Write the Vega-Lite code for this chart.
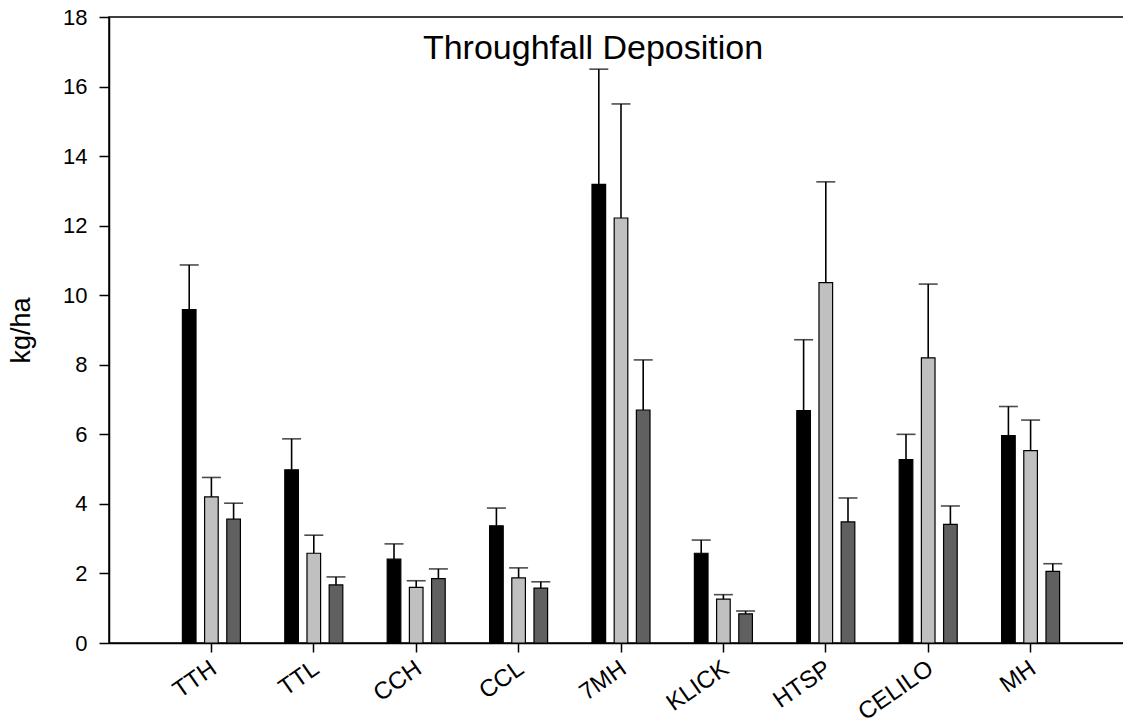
{
  "$schema": "https://vega.github.io/schema/vega-lite/v6.json",
  "width": 1024,
  "height": 626,
  "autosize": {"type": "none"},
  "padding": {"left": 109, "top": 17, "right": 0, "bottom": 77},
  "background": "white",
  "title": {"text": "Throughfall Deposition", "font": "Liberation Sans", "fontSize": 34, "fontWeight": "normal", "color": "black", "anchor": "middle", "dx": -28, "offset": -87, "baseline": "alphabetic"},
  "config": {
    "view": {"stroke": "black", "strokeWidth": 1.5},
    "axis": {"labelFont": "Liberation Sans", "titleFont": "Liberation Sans", "labelColor": "black", "titleColor": "black", "domainColor": "black", "tickColor": "black", "domainWidth": 1.5, "tickWidth": 1.5, "grid": false}
  },
  "data": {"values": [
    {"site": "TTH", "series": "A", "value": 9.59, "upper": 10.87},
    {"site": "TTH", "series": "B", "value": 4.2, "upper": 4.76},
    {"site": "TTH", "series": "C", "value": 3.56, "upper": 4.02},
    {"site": "TTL", "series": "A", "value": 4.98, "upper": 5.87},
    {"site": "TTL", "series": "B", "value": 2.58, "upper": 3.1},
    {"site": "TTL", "series": "C", "value": 1.67, "upper": 1.9},
    {"site": "CCH", "series": "A", "value": 2.41, "upper": 2.85},
    {"site": "CCH", "series": "B", "value": 1.6, "upper": 1.79},
    {"site": "CCH", "series": "C", "value": 1.85, "upper": 2.13},
    {"site": "CCL", "series": "A", "value": 3.37, "upper": 3.88},
    {"site": "CCL", "series": "B", "value": 1.87, "upper": 2.16},
    {"site": "CCL", "series": "C", "value": 1.58, "upper": 1.76},
    {"site": "7MH", "series": "A", "value": 13.19, "upper": 16.5},
    {"site": "7MH", "series": "B", "value": 12.22, "upper": 15.5},
    {"site": "7MH", "series": "C", "value": 6.7, "upper": 8.14},
    {"site": "KLICK", "series": "A", "value": 2.58, "upper": 2.96},
    {"site": "KLICK", "series": "B", "value": 1.26, "upper": 1.39},
    {"site": "KLICK", "series": "C", "value": 0.84, "upper": 0.92},
    {"site": "HTSP", "series": "A", "value": 6.68, "upper": 8.72},
    {"site": "HTSP", "series": "B", "value": 10.36, "upper": 13.26},
    {"site": "HTSP", "series": "C", "value": 3.48, "upper": 4.17},
    {"site": "CELILO", "series": "A", "value": 5.27, "upper": 6.0},
    {"site": "CELILO", "series": "B", "value": 8.2, "upper": 10.32},
    {"site": "CELILO", "series": "C", "value": 3.41, "upper": 3.94},
    {"site": "MH", "series": "A", "value": 5.96, "upper": 6.8},
    {"site": "MH", "series": "B", "value": 5.53, "upper": 6.41},
    {"site": "MH", "series": "C", "value": 2.06, "upper": 2.28}
  ]},
  "encoding": {
    "x": {"field": "site", "type": "nominal", "sort": null,
      "scale": {"paddingInner": 0, "paddingOuter": 0.5},
      "axis": {"title": null, "labelAngle": -35, "labelFontSize": 24, "tickSize": 9, "labelPadding": 4, "labelOffset": -4}},
    "xOffset": {"field": "series", "type": "nominal", "scale": {"paddingInner": 0.386, "paddingOuter": 1.167}}
  },
  "layer": [
    {
      "mark": {"type": "bar", "stroke": "black", "strokeWidth": 1.2},
      "encoding": {
        "y": {"field": "value", "type": "quantitative", "scale": {"domain": [0, 18], "nice": false},
          "axis": {"title": "kg/ha", "values": [0, 2, 4, 6, 8, 10, 12, 14, 16, 18], "labelFontSize": 22, "titleFontSize": 27, "titleFontWeight": "normal", "tickSize": 10, "labelPadding": 12, "titlePadding": 27}},
        "color": {"field": "series", "type": "nominal", "scale": {"domain": ["A", "B", "C"], "range": ["#000000", "#c0c0c0", "#606060"]}, "legend": null}
      }
    },
    {
      "mark": {"type": "rule", "color": "black", "strokeWidth": 1.6},
      "encoding": {
        "y": {"field": "value", "type": "quantitative"},
        "y2": {"field": "upper"}
      }
    },
    {
      "mark": {"type": "tick", "color": "black", "size": 19, "thickness": 1.6, "orient": "horizontal"},
      "encoding": {
        "y": {"field": "upper", "type": "quantitative"}
      }
    }
  ]
}
